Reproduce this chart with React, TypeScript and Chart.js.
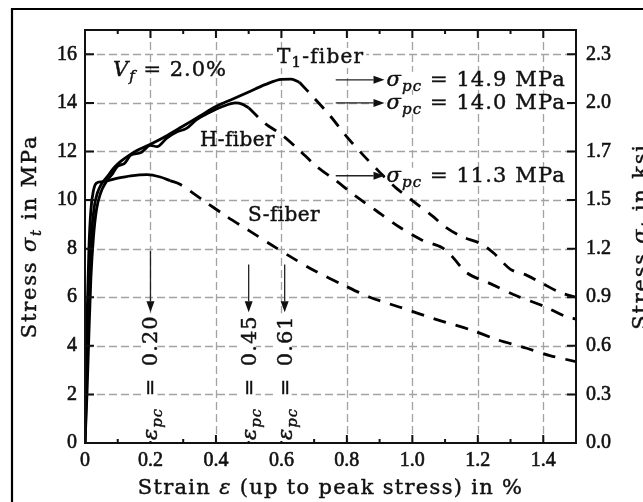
import React, { useEffect, useRef } from 'react';
import { Chart, registerables } from 'chart.js';

Chart.register(...registerables);

// ---------- data ----------
const xTicks = [0, 0.2, 0.4, 0.6, 0.8, 1.0, 1.2, 1.4];
const xTickLabels = ['0', '0.2', '0.4', '0.6', '0.8', '1.0', '1.2', '1.4'];
const yTicks = [0, 2, 4, 6, 8, 10, 12, 14, 16];
const yTickLabels = ['0', '2', '4', '6', '8', '10', '12', '14', '16'];
const ksiTickLabels = ['0.0', '0.3', '0.6', '0.9', '1.2', '1.5', '1.7', '2.0', '2.3'];

const t1Rise = [
  [0, 0], [0.004, 2], [0.008, 4.5], [0.013, 6.8], [0.02, 8.6], [0.028, 9.7], [0.038, 10.3],
  [0.05, 10.65], [0.07, 11.0], [0.09, 11.35], [0.11, 11.6], [0.13, 11.8], [0.16, 12.05],
  [0.2, 12.3], [0.25, 12.65], [0.3, 13.05], [0.35, 13.45], [0.4, 13.85], [0.45, 14.15],
  [0.5, 14.45], [0.55, 14.75], [0.6, 14.97], [0.63, 14.98], [0.655, 14.85],
];
const t1Fall = [
  [0.655, 14.85], [0.7, 14.2], [0.75, 13.45], [0.8, 12.6], [0.85, 11.85], [0.9, 11.15],
  [0.95, 10.5], [1.0, 9.98], [1.06, 9.36], [1.1, 8.9], [1.15, 8.5], [1.21, 8.2], [1.25, 7.8],
  [1.3, 7.15], [1.35, 6.9], [1.4, 6.55], [1.45, 6.2], [1.5, 6.0],
];
const hRise = [
  [0, 0], [0.006, 2], [0.012, 4.5], [0.018, 6.8], [0.026, 8.5], [0.035, 9.6], [0.048, 10.3],
  [0.065, 10.75], [0.085, 11.1], [0.1, 11.4], [0.12, 11.5], [0.14, 11.85], [0.17, 11.95],
  [0.2, 12.25], [0.22, 12.2], [0.25, 12.55], [0.28, 12.8], [0.31, 12.95], [0.34, 13.3],
  [0.38, 13.6], [0.42, 13.85], [0.46, 14.0], [0.48, 13.95], [0.5, 13.8],
];
const hFall = [
  [0.5, 13.8], [0.55, 13.15], [0.6, 12.7], [0.655, 12.05], [0.706, 11.4], [0.767, 10.8],
  [0.828, 10.15], [0.889, 9.57], [0.959, 8.9], [1.03, 8.35], [1.09, 8.05], [1.12, 7.7],
  [1.167, 7.0], [1.24, 6.55], [1.32, 6.05], [1.4, 5.64], [1.47, 5.2], [1.5, 5.1],
];
const sRise = [
  [0, 0], [0.003, 2.5], [0.007, 5.5], [0.012, 8], [0.018, 9.6], [0.026, 10.4], [0.035, 10.7],
  [0.05, 10.75], [0.07, 10.8], [0.1, 10.9], [0.14, 11.0], [0.19, 11.05], [0.23, 10.95], [0.26, 10.8],
];
const sFall = [
  [0.26, 10.8], [0.29, 10.65], [0.36, 10.0], [0.43, 9.35], [0.5, 8.75], [0.57, 8.15],
  [0.63, 7.65], [0.7, 7.1], [0.79, 6.5], [0.87, 6.0], [0.96, 5.6], [1.07, 5.1], [1.18, 4.65],
  [1.26, 4.25], [1.35, 3.9], [1.42, 3.6], [1.5, 3.35],
];

const peakStressLabels = ['14.9', '14.0', '11.3'];
const peakStressArrowAt = [14.95, 14.0, 11.0];
const peakStrainLabels = ['0.20', '0.45', '0.61'];
const peakStrainArrowAt = [0.2, 0.5, 0.61];
const peakStrainArrowTop = [7.9, 7.35, 7.35];

// ---------- drawing helpers ----------
const FAM = '"DejaVu Serif", serif';
const R = (s: number) => `${s}px ${FAM}`;
const I = (s: number) => `italic ${s}px ${FAM}`;
const INK = '#111';
type Seg = { t: string; f: string; dy?: number };

function richWidth(ctx: CanvasRenderingContext2D, segs: Seg[], ls = 0) {
  let w = 0;
  (ctx as any).letterSpacing = `${ls}px`;
  for (const s of segs) {
    ctx.font = s.f;
    w += ctx.measureText(s.t).width;
  }
  return w;
}
function drawRich(ctx: CanvasRenderingContext2D, segs: Seg[], x: number, y: number, center = false, ls = 0) {
  const w = richWidth(ctx, segs, ls);
  let cx = center ? x - w / 2 : x;
  ctx.textAlign = 'left';
  ctx.textBaseline = 'alphabetic';
  ctx.fillStyle = INK;
  ctx.strokeStyle = INK;
  ctx.lineWidth = 0.45;
  (ctx as any).letterSpacing = `${ls}px`;
  for (const s of segs) {
    ctx.font = s.f;
    ctx.fillText(s.t, cx, y + (s.dy || 0));
    ctx.strokeText(s.t, cx, y + (s.dy || 0));
    cx += ctx.measureText(s.t).width;
  }
  (ctx as any).letterSpacing = '0px';
  return w;
}
function bgBox(ctx: CanvasRenderingContext2D, x: number, y: number, w: number, h: number) {
  ctx.save();
  ctx.fillStyle = '#fff';
  ctx.fillRect(x, y, w, h);
  ctx.restore();
}
function arrow(ctx: CanvasRenderingContext2D, x1: number, y1: number, x2: number, y2: number) {
  const ang = Math.atan2(y2 - y1, x2 - x1);
  const hl = 11, hw = 4;
  ctx.save();
  ctx.strokeStyle = '#222';
  ctx.fillStyle = '#111';
  ctx.lineWidth = 1.3;
  ctx.beginPath();
  ctx.moveTo(x1, y1);
  ctx.lineTo(x2 - Math.cos(ang) * hl, y2 - Math.sin(ang) * hl);
  ctx.stroke();
  ctx.beginPath();
  ctx.moveTo(x2, y2);
  ctx.lineTo(x2 - Math.cos(ang) * hl - Math.sin(ang) * hw, y2 - Math.sin(ang) * hl + Math.cos(ang) * hw);
  ctx.lineTo(x2 - Math.cos(ang) * hl + Math.sin(ang) * hw, y2 - Math.sin(ang) * hl - Math.cos(ang) * hw);
  ctx.closePath();
  ctx.fill();
  ctx.restore();
}

const decorPlugin = {
  id: 'decor',
  beforeDatasetsDraw(chart: any) {
    const { ctx, chartArea: a, scales } = chart;
    const x = scales.x, y = scales.y;
    ctx.save();
    ctx.strokeStyle = '#a3a3a3';
    ctx.lineWidth = 1.3;
    ctx.setLineDash([8, 4]);
    for (const v of xTicks) {
      if (v === 0) continue;
      const px = Math.round(x.getPixelForValue(v)) + 0.5;
      ctx.beginPath();
      ctx.moveTo(px, a.top);
      ctx.lineTo(px, a.bottom);
      ctx.stroke();
    }
    for (const v of yTicks) {
      if (v === 0) continue;
      const py = Math.round(y.getPixelForValue(v)) + 0.5;
      ctx.beginPath();
      ctx.moveTo(a.left, py);
      ctx.lineTo(a.right, py);
      ctx.stroke();
    }
    ctx.restore();
  },
  afterDatasetsDraw(chart: any) {
    const { ctx, chartArea: a, scales } = chart;
    const x = scales.x, y = scales.y;
    ctx.save();
    ctx.setLineDash([]);

    // ticks
    ctx.strokeStyle = '#111';
    ctx.lineWidth = 2;
    for (let i = 1; i < 15; i++) {
      const px = x.getPixelForValue(i / 10);
      const len = i % 2 === 0 ? 8 : 4;
      ctx.beginPath();
      ctx.moveTo(px, a.bottom); ctx.lineTo(px, a.bottom - len);
      ctx.moveTo(px, a.top); ctx.lineTo(px, a.top + len);
      ctx.stroke();
    }
    for (const v of yTicks) {
      if (v === 0) continue;
      const py = y.getPixelForValue(v);
      ctx.beginPath();
      ctx.moveTo(a.left, py); ctx.lineTo(a.left + 9, py);
      ctx.moveTo(a.right, py); ctx.lineTo(a.right - 9, py);
      ctx.stroke();
    }
    // plot frame
    ctx.lineWidth = 2;
    ctx.strokeRect(a.left, a.top, a.right - a.left, a.bottom - a.top);

    // V_f label
    drawRich(ctx, [
      { t: 'V', f: I(21) }, { t: 'f', f: I(15), dy: 5 }, { t: ' = 2.0%', f: R(21) },
    ], 113, 76, false, 1);

    // fiber labels
    const t1Segs: Seg[] = [{ t: 'T', f: R(20) }, { t: '1', f: R(15), dy: 4 }, { t: '-fiber', f: R(20) }];
    const t1w = richWidth(ctx, t1Segs, 1.2);
    bgBox(ctx, 275, 48, t1w + 4, 20);
    drawRich(ctx, t1Segs, 277, 63, false, 1.2);
    drawRich(ctx, [{ t: 'H-fiber', f: R(20) }], 200, 146, false, 0.4);
    drawRich(ctx, [{ t: 'S-fiber', f: R(20) }], 248, 221, false, 0.4);

    // sigma_pc labels with arrows
    const ax1 = x.getPixelForValue(0.766), ax2 = x.getPixelForValue(0.915);
    peakStressLabels.forEach((lab, i) => {
      const py = y.getPixelForValue(peakStressArrowAt[i]);
      arrow(ctx, ax1, py, ax2, py);
      const segs: Seg[] = [
        { t: 'σ', f: I(21) }, { t: 'pc', f: I(15), dy: 5 }, { t: ` = ${lab} MPa`, f: R(21) },
      ];
      const w = richWidth(ctx, segs, 1.1);
      bgBox(ctx, ax2 + 1, py - 8, w + 2, 15);
      drawRich(ctx, segs, ax2 + 2, py + 6, false, 1.1);
    });

    // eps_pc labels with vertical arrows
    peakStrainLabels.forEach((lab, i) => {
      const px = x.getPixelForValue(peakStrainArrowAt[i]);
      arrow(ctx, px, y.getPixelForValue(peakStrainArrowTop[i]), px, y.getPixelForValue(5.38));
      const segs: Seg[] = [
        { t: 'ε', f: I(21) }, { t: 'pc', f: I(15), dy: 5 }, { t: `\u2002=\u2002${lab}`, f: R(21) },
      ];
      ctx.save();
      ctx.translate(px, 440);
      ctx.rotate(-Math.PI / 2);
      const w = richWidth(ctx, segs, 1);
      bgBox(ctx, -1, -8, w + 3, 15);
      drawRich(ctx, segs, 0, 7, false, 1);
      ctx.restore();
    });

    // axis titles
    const yTitle = (unit: string): Seg[] => [
      { t: 'Stress ', f: R(21) }, { t: 'σ', f: I(21) }, { t: 't', f: I(15), dy: 5 }, { t: ` in ${unit}`, f: R(21) },
    ];
    ctx.save();
    ctx.translate(36, (a.top + a.bottom) / 2);
    ctx.rotate(-Math.PI / 2);
    drawRich(ctx, yTitle('MPa'), 0, 0, true, 1.8);
    ctx.restore();
    ctx.save();
    ctx.translate(647, (a.top + a.bottom) / 2);
    ctx.rotate(-Math.PI / 2);
    drawRich(ctx, yTitle('ksi'), 0, 0, true, 1.8);
    ctx.restore();
    drawRich(ctx, [
      { t: 'Strain ', f: R(21) }, { t: 'ε', f: I(21) }, { t: ' (up to peak stress) in %', f: R(21) },
    ], (a.left + a.right) / 2, 494, true, 1.3);

    // outer frame
    ctx.strokeStyle = '#000';
    ctx.lineWidth = 2.2;
    ctx.beginPath();
    ctx.moveTo(12, 520);
    ctx.lineTo(12, 9);
    ctx.lineTo(660, 9);
    ctx.stroke();
    ctx.restore();
  },
};

const toPts = (arr: number[][]) => arr.map(([x, y]) => ({ x, y }));

export default function App() {
  const ref = useRef<HTMLCanvasElement | null>(null);
  useEffect(() => {
    if (!ref.current) return;
    const solid = (d: number[][]) => ({
      data: toPts(d), borderColor: '#000', borderWidth: 2.8, pointRadius: 0, showLine: true,
      cubicInterpolationMode: 'monotone' as const, fill: false,
    });
    const dashed = (d: number[][]) => ({
      data: toPts(d), borderColor: '#000', borderWidth: 2.8, pointRadius: 0, showLine: true,
      borderDash: [13, 10], tension: 0.3, fill: false,
    });
    const tickFont = { family: '"Liberation Serif", serif', size: 20 };
    const tickCommon = { color: INK, font: tickFont, autoSkip: false, textStrokeColor: INK, textStrokeWidth: 0.6 };
    const chart = new Chart(ref.current, {
      type: 'scatter',
      data: {
        datasets: [
          solid(sRise), dashed(sFall), solid(hRise), dashed(hFall), solid(t1Rise), dashed(t1Fall),
        ],
      },
      plugins: [decorPlugin],
      options: {
        responsive: false,
        animation: false,
        events: [],
        layout: { padding: { top: 30, left: 0, right: 0, bottom: 0 } },
        plugins: { legend: { display: false }, tooltip: { enabled: false } },
        scales: {
          x: {
            type: 'linear', min: 0, max: 1.5,
            afterBuildTicks: (s: any) => { s.ticks = xTicks.map((v) => ({ value: v })); },
            afterFit: (s: any) => { s.height = 59; },
            grid: { display: false, drawTicks: false },
            border: { display: false },
            ticks: {
              ...tickCommon, padding: 6, maxRotation: 0,
              callback: (_v: any, i: number) => xTickLabels[i],
            },
          },
          y: {
            type: 'linear', position: 'left', min: 0, max: 17,
            afterBuildTicks: (s: any) => { s.ticks = yTicks.map((v) => ({ value: v })); },
            afterFit: (s: any) => { s.width = 85; },
            grid: { display: false, drawTicks: false },
            border: { display: false },
            ticks: {
              ...tickCommon, padding: 8,
              callback: (_v: any, i: number) => yTickLabels[i],
            },
          },
          y2: {
            type: 'linear', position: 'right', min: 0, max: 17,
            afterBuildTicks: (s: any) => { s.ticks = yTicks.map((v) => ({ value: v })); },
            afterFit: (s: any) => { s.width = 67; },
            grid: { display: false, drawTicks: false },
            border: { display: false },
            ticks: {
              ...tickCommon, padding: 10,
              callback: (_v: any, i: number) => ksiTickLabels[i],
            },
          },
        },
      },
    } as any);
    return () => chart.destroy();
  }, []);
  return (
    <div style={{ position: 'fixed', left: 0, top: 0, width: 643, height: 502, background: '#fff' }}>
      <canvas ref={ref} width={643} height={502} style={{ display: 'block' }} />
    </div>
  );
}
